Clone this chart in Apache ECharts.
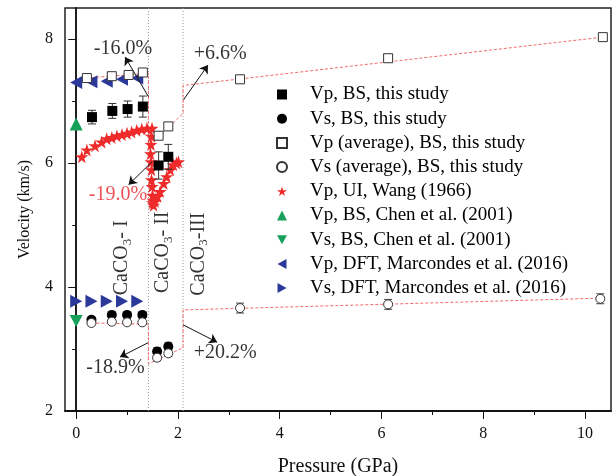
<!DOCTYPE html>
<html>
<head>
<meta charset="utf-8">
<script src="https://cdn.jsdelivr.net/npm/echarts@6/dist/echarts.min.js"></script>
<style>
html,body{margin:0;padding:0;background:#fff;}
#chart{width:616px;height:476px;}
</style>
</head>
<body>
<div id="chart"></div>
<script>
// Vp, BS, this study (filled squares)
var pVpBS = [0.31, 0.71, 1.01, 1.31, 1.62, 1.81];
var vpBS = [6.74, 6.84, 6.87, 6.91, 5.96, 6.10];
var vpBSErr = [0.11, 0.12, 0.13, 0.17, 0.22, 0.20];
// Vs, BS, this study (filled circles)
var pVsBS = [0.30, 0.70, 1.00, 1.30, 1.59, 1.81];
var vsBS = [3.47, 3.55, 3.55, 3.55, 2.96, 3.04];
var vsBSErr = [0.03, 0.04, 0.04, 0.04, 0.06, 0.06];
// averages (open symbols)
var pVpAvg = [0.21, 0.70, 1.03, 1.31, 1.62, 1.81, 3.22, 6.13, 10.35];
var vpAvg = [7.37, 7.40, 7.42, 7.46, 6.44, 6.59, 7.35, 7.69, 8.03];
var vpAvgErr = [0.03, 0.04, 0.05, 0.04, 0.04, 0.04, 0.04, 0.04, 0.05];
var pVsAvg = [0.30, 0.70, 1.00, 1.30, 1.59, 1.81, 3.22, 6.13, 10.30];
var vsAvg = [3.42, 3.44, 3.43, 3.43, 2.86, 2.93, 3.66, 3.72, 3.81];
var vsAvgErr = [0.03, 0.03, 0.03, 0.03, 0.05, 0.05, 0.08, 0.08, 0.08];
// Wang (1966) UI
var pWang = [0.11, 0.21, 0.37, 0.50, 0.60, 0.70, 0.80, 0.90, 1.00, 1.09, 1.19, 1.29, 1.39, 1.49,
  1.48, 1.47, 1.46, 1.47, 1.48, 1.48, 1.49, 1.50, 1.51, 1.52, 1.50,
  1.55, 1.60, 1.65, 1.72, 1.78, 1.85, 1.91, 1.97, 2.01];
var vpWang = [6.10, 6.21, 6.28, 6.34, 6.39, 6.41, 6.44, 6.46, 6.48, 6.50, 6.53, 6.55, 6.56, 6.56,
  6.43, 6.30, 6.15, 6.02, 5.89, 5.73, 5.62, 5.48, 5.40, 5.32, 5.36,
  5.38, 5.46, 5.54, 5.67, 5.78, 5.89, 5.97, 6.00, 6.02];
// Chen et al. (2001)
var pChen = [0];
var vpChen = [6.63];
var vsChen = [3.45];
// Marcondes et al. (2016) DFT
var pDFT = [0, 0.3, 0.6, 0.9, 1.2];
var vpDFT = [7.30, 7.31, 7.32, 7.35, 7.37];
var vsDFT = [3.77, 3.77, 3.77, 3.77, 3.77];
// dashed trend lines
var vpTrend = [[0.2, 7.37], [1.42, 7.45], [1.42, 6.26], [2.1, 6.80], [2.1, 7.25], [10.35, 8.03]];
var vsTrend = [[0.3, 3.42], [1.42, 3.40], [1.42, 2.76], [2.1, 3.02], [2.1, 3.63], [10.3, 3.82]];
var phaseBounds = [1.42, 2.1];
var xLabels = [0, 2, 4, 6, 8, 10];
var xMinor = [1, 3, 5, 7, 9];
var yLabels = [2, 4, 6, 8];
var yMinor = [3, 5, 7];

var serif = 'Liberation Serif';
var star = 'path://M50,0L61,35L98,35L68,57L79,91L50,70L21,91L32,57L2,35L39,35Z';
var triDown = 'path://M0,0L10,0L5,9Z';
var triLeft = 'path://M9,0L9,10L0,5Z';
var triRight = 'path://M0,0L0,10L9,5Z';

function pairs(xs, ys) {
	return xs.map(function(x, i){ return [x, ys[i]]; });
}

function errBars(xs, ys, es, color, z) {
	return {
		type: 'custom', silent: true, z: z,
		encode: {x: 0, y: [1, 2]},
		data: xs.map(function(x, i){ return [x, ys[i] - es[i], ys[i] + es[i]]; }),
		renderItem: function(params, api){
			var a = api.coord([api.value(0), api.value(1)]);
			var b = api.coord([api.value(0), api.value(2)]);
			var w = 4, st = {stroke: color, lineWidth: 1};
			return {type: 'group', children: [
				{type: 'line', shape: {x1: a[0], y1: a[1], x2: b[0], y2: b[1]}, style: st},
				{type: 'line', shape: {x1: a[0]-w, y1: a[1], x2: a[0]+w, y2: a[1]}, style: st},
				{type: 'line', shape: {x1: b[0]-w, y1: b[1], x2: b[0]+w, y2: b[1]}, style: st}
			]};
		}
	};
}

var subRich = {
	a: {fontFamily: serif, fontSize: 20, color: '#000', lineHeight: 20, verticalAlign: 'top'},
	s: {fontFamily: serif, fontSize: 13, color: '#000', lineHeight: 13, padding: [9, 0, 0, 0], verticalAlign: 'top'}
};

var notes = [
	{value: [0.92, 7.85], text: '-16.0%', color: '#000'},
	{value: [2.83, 7.77], text: '+6.6%', color: '#000'},
	{value: [0.82, 5.48], text: '-19.0%', color: '#e8262a'},
	{value: [0.77, 2.69], text: '-18.9%', color: '#000'},
	{value: [2.93, 2.94], text: '+20.2%', color: '#000'}
];
var phaseNotes = [
	{value: [0.90, 4.47], text: '{a|CaCO}{s|3}{a|- I}'},
	{value: [1.71, 4.56], text: '{a|CaCO}{s|3}{a|- II}'},
	{value: [2.40, 4.53], text: '{a|CaCO}{s|3}{a|-III}'}
];
var arrows = [
	[[1.42, 7.07], [0.96, 7.71]],
	[[2.11, 7.02], [2.59, 7.58]],
	[[1.49, 6.02], [1.03, 5.65]],
	[[1.41, 3.10], [0.86, 2.87]],
	[[2.10, 3.39], [2.77, 3.11]]
];

var myChart = echarts.init(document.getElementById('chart'));
var option = {
	animation: false,
	backgroundColor: '#fff',
	grid: {left: 65, right: 5, top: 8, bottom: 65, show: true, borderColor: '#222', borderWidth: 1.5,
		containLabel: false, outerBoundsMode: 'none'},
	legend: {
		orient: 'vertical', left: 271, top: 80,
		itemWidth: 10, itemHeight: 10, itemGap: 5.2,
		textStyle: {fontFamily: serif, fontSize: 19, lineHeight: 19, color: '#000', padding: [0, 0, 0, 18]},
		data: [
			{name: 'Vp, BS, this study', icon: 'rect'},
			{name: 'Vs, BS, this study', icon: 'circle'},
			{name: 'Vp (average), BS, this study', icon: 'rect'},
			{name: 'Vs (average), BS, this study', icon: 'circle'},
			{name: 'Vp, UI, Wang (1966)', icon: star},
			{name: 'Vp, BS, Chen et al. (2001)', icon: 'triangle'},
			{name: 'Vs, BS, Chen et al. (2001)', icon: triDown},
			{name: 'Vp, DFT, Marcondes et al. (2016)', icon: triLeft},
			{name: 'Vs, DFT, Marcondes et al. (2016)', icon: triRight}
		]
	},
	xAxis: [{
		type: 'value', min: -0.22, max: 10.51,
		name: 'Pressure (GPa)', nameLocation: 'middle', nameGap: 46,
		nameTextStyle: {fontFamily: serif, fontSize: 20, color: '#111'},
		axisLine: {lineStyle: {color: '#111', width: 1.5}},
		axisTick: {show: true, customValues: xLabels, length: 8, lineStyle: {color: '#111'}},
		axisLabel: {customValues: xLabels, fontFamily: serif, fontSize: 16, color: '#111', margin: 15},
		splitLine: {show: false}
	}, {
		type: 'value', min: -0.22, max: 10.51, position: 'bottom',
		axisLine: {show: true, lineStyle: {color: '#111', width: 1.5}},
		axisTick: {show: true, customValues: xMinor, length: 4, lineStyle: {color: '#111'}},
		axisLabel: {show: false}, splitLine: {show: false}
	}],
	yAxis: [{
		type: 'value', min: 2, max: 8.5,
		name: 'Velocity (km/s)', nameLocation: 'middle', nameGap: 32,
		nameTextStyle: {fontFamily: serif, fontSize: 16, color: '#111'},
		axisLine: {show: true, lineStyle: {color: '#111', width: 1.5}},
		axisTick: {show: true, customValues: yLabels, length: 8, lineStyle: {color: '#111'}},
		axisLabel: {customValues: yLabels, fontFamily: serif, fontSize: 16, color: '#111', margin: 12},
		splitLine: {show: false}
	}, {
		type: 'value', min: 2, max: 8.5, position: 'left',
		axisLine: {show: true, lineStyle: {color: '#111', width: 1.5}},
		axisTick: {show: true, customValues: yMinor, length: 4, lineStyle: {color: '#111'}},
		axisLabel: {show: false}, splitLine: {show: false}
	}],
	series: [
		{
			type: 'line', name: 'bounds1', symbol: 'none', silent: true, z: 1,
			data: [[phaseBounds[0], 2], [phaseBounds[0], 8.5]],
			lineStyle: {color: '#999', width: 1, type: [1, 2]},
			markLine: {
				silent: true, symbol: ['none', 'arrow'], symbolSize: 8, animation: false,
				label: {show: false},
				lineStyle: {color: '#111', width: 1, type: 'solid'},
				data: arrows.map(function(a){ return [{coord: a[0]}, {coord: a[1]}]; })
			}
		},
		{
			type: 'line', name: 'bounds2', symbol: 'none', silent: true, z: 1,
			data: [[phaseBounds[1], 2], [phaseBounds[1], 8.5]],
			lineStyle: {color: '#999', width: 1, type: [1, 2]}
		},
		{
			type: 'line', name: 'vpTrend', symbol: 'none', silent: true, z: 1,
			data: vpTrend, lineStyle: {color: '#f26b6b', width: 1, type: [3, 2]}
		},
		{
			type: 'line', name: 'vsTrend', symbol: 'none', silent: true, z: 1,
			data: vsTrend, lineStyle: {color: '#f26b6b', width: 1, type: [3, 2]}
		},
		{
			type: 'scatter', name: 'Vp, UI, Wang (1966)', symbol: star, symbolSize: 13, z: 2,
			itemStyle: {color: '#ee2a2a', opacity: 1}, data: pairs(pWang, vpWang)
		},
		{
			type: 'scatter', name: 'Vp, BS, Chen et al. (2001)', symbol: 'triangle', symbolSize: 13, z: 3,
			itemStyle: {color: '#17a05a', opacity: 1}, data: pairs(pChen, vpChen)
		},
		{
			type: 'scatter', name: 'Vs, BS, Chen et al. (2001)', symbol: triDown, symbolSize: [13, 12], z: 3,
			itemStyle: {color: '#17a05a', opacity: 1}, data: pairs(pChen, vsChen)
		},
		{
			type: 'scatter', name: 'Vp, DFT, Marcondes et al. (2016)', symbol: triLeft, symbolSize: [12, 13], z: 3,
			itemStyle: {color: '#2b3a9a', opacity: 1}, data: pairs(pDFT, vpDFT)
		},
		{
			type: 'scatter', name: 'Vs, DFT, Marcondes et al. (2016)', symbol: triRight, symbolSize: [12, 13], z: 3,
			itemStyle: {color: '#2b3a9a', opacity: 1}, data: pairs(pDFT, vsDFT)
		},
		errBars(pVpBS, vpBS, vpBSErr, '#333', 4),
		errBars(pVsBS, vsBS, vsBSErr, '#333', 4),
		errBars(pVpAvg, vpAvg, vpAvgErr, '#444', 4),
		errBars(pVsAvg, vsAvg, vsAvgErr, '#444', 4),
		{
			type: 'scatter', name: 'Vp, BS, this study', symbol: 'rect', symbolSize: 10, z: 5,
			itemStyle: {color: '#000', opacity: 1}, data: pairs(pVpBS, vpBS)
		},
		{
			type: 'scatter', name: 'Vs, BS, this study', symbol: 'circle', symbolSize: 10, z: 5,
			itemStyle: {color: '#000', opacity: 1}, data: pairs(pVsBS, vsBS)
		},
		{
			type: 'scatter', name: 'Vp (average), BS, this study', symbol: 'rect', symbolSize: 9, z: 6,
			itemStyle: {color: '#fff', borderColor: '#333', borderWidth: 1, opacity: 1}, data: pairs(pVpAvg, vpAvg)
		},
		{
			type: 'scatter', name: 'Vs (average), BS, this study', symbol: 'circle', symbolSize: 9, z: 6,
			itemStyle: {color: '#fff', borderColor: '#333', borderWidth: 1, opacity: 1}, data: pairs(pVsAvg, vsAvg)
		},
		{
			type: 'scatter', name: 'notes', symbolSize: 0, silent: true, z: 7,
			data: notes.map(function(n){
				return {value: n.value, label: {color: n.color, formatter: n.text}};
			}),
			label: {show: true, position: 'inside', fontFamily: serif, fontSize: 20}
		},
		{
			type: 'scatter', name: 'phases', symbolSize: 0, silent: true, z: 7,
			data: phaseNotes.map(function(n){
				return {value: n.value, label: {formatter: n.text}};
			}),
			label: {show: true, position: 'inside', rotate: 90, rich: subRich}
		}
	]
};
myChart.setOption(option);
</script>
</body>
</html>
